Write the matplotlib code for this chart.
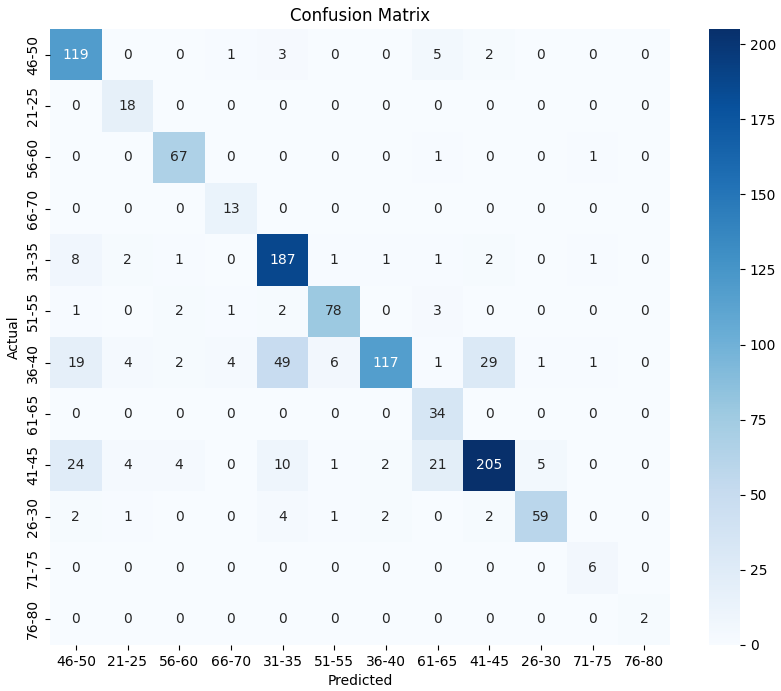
import matplotlib
matplotlib.use("Agg")
import matplotlib.pyplot as plt
import seaborn as sns
import numpy as np

labels = ["46-50", "21-25", "56-60", "66-70", "31-35", "51-55", "36-40",
          "61-65", "41-45", "26-30", "71-75", "76-80"]

row_46_50 = [119, 0, 0, 1, 3, 0, 0, 5, 2, 0, 0, 0]
row_21_25 = [0, 18, 0, 0, 0, 0, 0, 0, 0, 0, 0, 0]
row_56_60 = [0, 0, 67, 0, 0, 0, 0, 1, 0, 0, 1, 0]
row_66_70 = [0, 0, 0, 13, 0, 0, 0, 0, 0, 0, 0, 0]
row_31_35 = [8, 2, 1, 0, 187, 1, 1, 1, 2, 0, 1, 0]
row_51_55 = [1, 0, 2, 1, 2, 78, 0, 3, 0, 0, 0, 0]
row_36_40 = [19, 4, 2, 4, 49, 6, 117, 1, 29, 1, 1, 0]
row_61_65 = [0, 0, 0, 0, 0, 0, 0, 34, 0, 0, 0, 0]
row_41_45 = [24, 4, 4, 0, 10, 1, 2, 21, 205, 5, 0, 0]
row_26_30 = [2, 1, 0, 0, 4, 1, 2, 0, 2, 59, 0, 0]
row_71_75 = [0, 0, 0, 0, 0, 0, 0, 0, 0, 0, 6, 0]
row_76_80 = [0, 0, 0, 0, 0, 0, 0, 0, 0, 0, 0, 2]

cm = np.array([row_46_50, row_21_25, row_56_60, row_66_70, row_31_35, row_51_55,
               row_36_40, row_61_65, row_41_45, row_26_30, row_71_75, row_76_80])

fig = plt.figure(figsize=(7.81, 6.91), dpi=100)
W, H = 781, 691
ax = fig.add_axes([50 / W, (H - 645) / H, 620 / W, 616 / H])
cax = fig.add_axes([709 / W, (H - 645) / H, 31 / W, 616 / H])

sns.heatmap(cm, annot=True, fmt="d", cmap="Blues", xticklabels=labels,
            yticklabels=labels, ax=ax, cbar_ax=cax)
ax.set_title("Confusion Matrix", fontsize=12)
ax.set_xlabel("Predicted")
ax.set_ylabel("Actual")

fig.savefig("out.png", dpi=100)
